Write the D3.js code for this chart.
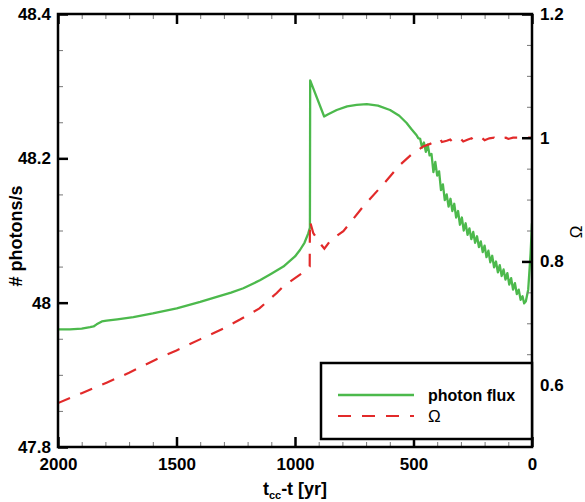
<!DOCTYPE html>
<html><head><meta charset="utf-8">
<script src="https://cdn.jsdelivr.net/npm/d3@7"></script>
<style>
body{margin:0;background:#fff}
svg{display:block}
text{font-family:"Liberation Sans",Arial,Helvetica,sans-serif}
</style>
</head><body>
<svg id="chart" width="585" height="502"></svg>
<script>
// ---------- data ----------
const fluxT = [2000,1950,1900,1865,1850,1837,1815,1795,1750,1682,1600,1499,1400,1330,1270,1218,1148,1100,1049,1000,979,960,944,937,936,
  877,860,824,780,740,697,650,599,560,529,510,487,
  480,472,464,456,448,440,432,424,416,408,400,392,384,376,368,360,352,344,336,328,320,312,304,296,288,280,272,264,256,248,240,232,224,216,208,200,
  192,184,176,168,160,152,144,136,128,120,112,104,96,88,80,72,64,56,48,40,33,26,16,6,0];
const fluxV = [47.963,47.963,47.964,47.966,47.967,47.970,47.974,47.975,47.977,47.980,47.985,47.992,48.001,48.008,48.014,48.020,48.031,48.040,48.050,48.064,48.073,48.083,48.096,48.104,48.308,
  48.258,48.261,48.267,48.272,48.274,48.275,48.273,48.267,48.259,48.249,48.241,48.232,
  48.228,48.227,48.215,48.222,48.209,48.219,48.204,48.206,48.181,48.195,48.176,48.182,48.156,48.164,48.142,48.150,48.133,48.144,48.127,48.137,48.118,48.127,48.108,48.118,48.100,48.110,48.094,48.103,48.088,48.098,48.083,48.092,48.077,48.085,48.070,48.079,
  48.063,48.072,48.056,48.065,48.049,48.057,48.042,48.052,48.037,48.046,48.032,48.041,48.025,48.034,48.018,48.027,48.012,48.018,48.004,48.009,47.999,48.002,48.018,48.068,48.110];

const omegaT = [2000,1900,1795,1700,1584,1500,1401,1300,1232,1150,1077,1049,1000,970,944,938,937,923,900,876,850,796,768,712,627,557,508,459,430,
  420,400,388,380,360,345,335,320,300,290,270,255,245,225,210,200,180,160,150,130,110,100,80,60,40,20,0];
const omegaV = [0.571,0.587,0.604,0.620,0.642,0.656,0.674,0.692,0.706,0.724,0.749,0.760,0.773,0.781,0.790,0.792,0.865,0.846,0.832,0.8205,0.834,0.849,0.862,0.889,0.925,0.956,0.973,0.986,0.990,
  0.992,0.995,0.998,0.993,0.995,0.997,0.993,0.996,0.998,0.994,0.997,0.999,0.995,0.998,0.999,0.996,0.999,1.000,0.997,0.999,1.000,0.998,1.000,1.000,1.000,1.000,1.000];

const xMajor = [2000,1500,1000,500,0];
const xMajorLabels = ["2000","1500","1000","500","0"];
const yLeftMajor = [47.8,48,48.2,48.4];
const yLeftLabels = ["47.8","48","48.2","48.4"];
const yRightMajor = [0.6,0.8,1.0,1.2];
const yRightLabels = ["0.6","0.8","1","1.2"];
const seriesNames = ["photon flux","\u03A9"];

// ---------- layout ----------
const L = 58, R = 532, T = 14, B = 447;
const svg = d3.select("#chart");
const x = d3.scaleLinear().domain([2000,0]).range([L,R]);
const yL = d3.scaleLinear().domain([47.8,48.4]).range([B,T]);
const yR = d3.scaleLinear().domain([0.5,1.2]).range([B,T]);

const xMinor = d3.range(0,2001,100).filter(v=>!xMajor.includes(v));
const yLMinor = d3.range(0,13).map(i=>+(47.8+i*0.05).toFixed(2)).filter(v=>!yLeftMajor.includes(v));
const yRMinor = d3.range(0,15).map(i=>+(0.5+i*0.05).toFixed(2)).filter(v=>!yRightMajor.includes(v));

const green = "#4cb94c", red = "#e22a2a";

// lines
const lineFlux = d3.line().x(d=>x(d[0])).y(d=>yL(d[1]));
const lineOmega = d3.line().x(d=>x(d[0])).y(d=>yR(d[1]));
svg.append("clipPath").attr("id","pc").append("rect")
  .attr("x",L).attr("y",T).attr("width",R-L).attr("height",B-T);
svg.append("path").datum(fluxT.map((t,i)=>[t,fluxV[i]]))
  .attr("d",lineFlux).attr("fill","none").attr("stroke",green).attr("stroke-width",2.3)
  .attr("stroke-linejoin","round").attr("clip-path","url(#pc)");
svg.append("path").datum(omegaT.map((t,i)=>[t,omegaV[i]]))
  .attr("d",lineOmega).attr("fill","none").attr("stroke",red).attr("stroke-width",2.2)
  .attr("stroke-dasharray","13,11").attr("clip-path","url(#pc)");

// axes helper
function styleAxis(g, major){
  g.select(".domain").remove();
  g.selectAll(".tick line").attr("stroke", major ? "#000" : "#777")
    .attr("stroke-width", major ? 2.5 : 1);
  g.selectAll("text").attr("font-size",17).attr("font-weight","bold").attr("fill","#000")
    .attr("font-family","'Liberation Sans',Arial,sans-serif");
}
// bottom
svg.append("g").attr("transform",`translate(0,${B})`)
  .call(d3.axisBottom(x).tickValues(xMinor).tickSize(-5).tickFormat(""))
  .call(g=>styleAxis(g,false));
svg.append("g").attr("transform",`translate(0,${B})`)
  .call(d3.axisBottom(x).tickValues(xMajor).tickSize(-10).tickPadding(11)
    .tickFormat((d,i)=>xMajorLabels[i]))
  .call(g=>styleAxis(g,true));
// top
svg.append("g").attr("transform",`translate(0,${T})`)
  .call(d3.axisTop(x).tickValues(xMinor).tickSize(-5).tickFormat(""))
  .call(g=>styleAxis(g,false));
svg.append("g").attr("transform",`translate(0,${T})`)
  .call(d3.axisTop(x).tickValues(xMajor).tickSize(-10).tickFormat(""))
  .call(g=>styleAxis(g,true));
// left
svg.append("g").attr("transform",`translate(${L},0)`)
  .call(d3.axisLeft(yL).tickValues(yLMinor).tickSize(-5).tickFormat(""))
  .call(g=>styleAxis(g,false));
svg.append("g").attr("transform",`translate(${L},0)`)
  .call(d3.axisLeft(yL).tickValues(yLeftMajor).tickSize(-10).tickPadding(7)
    .tickFormat((d,i)=>yLeftLabels[i]))
  .call(g=>styleAxis(g,true));
// right
svg.append("g").attr("transform",`translate(${R},0)`)
  .call(d3.axisRight(yR).tickValues(yRMinor).tickSize(-5).tickFormat(""))
  .call(g=>styleAxis(g,false));
svg.append("g").attr("transform",`translate(${R},0)`)
  .call(d3.axisRight(yR).tickValues(yRightMajor).tickSize(-10).tickPadding(8)
    .tickFormat((d,i)=>yRightLabels[i]))
  .call(g=>styleAxis(g,true));

// frame
svg.append("rect").attr("x",L).attr("y",T).attr("width",R-L).attr("height",B-T)
  .attr("fill","none").attr("stroke","#000").attr("stroke-width",2.5);

// axis titles
svg.append("text").attr("transform","translate(22,236) rotate(-90)")
  .attr("text-anchor","middle").attr("font-size",18).attr("font-weight","bold")
  .text("# photons/s");
svg.append("text").attr("transform","translate(582,232) rotate(-90)")
  .attr("text-anchor","middle").attr("font-size",17)
  .text("\u03A9");
const xt = svg.append("text").attr("x",295).attr("y",495).attr("text-anchor","middle")
  .attr("font-size",18).attr("font-weight","bold");
xt.append("tspan").text("t");
xt.append("tspan").attr("font-size",11).attr("dy",4).text("cc");
xt.append("tspan").attr("dy",-4).text("-t [yr]");

// legend
svg.append("rect").attr("x",321).attr("y",363).attr("width",R-321).attr("height",439-363)
  .attr("fill","#fff").attr("stroke","#000").attr("stroke-width",2.5);
const lg = svg.append("g");
lg.append("line").attr("x1",338).attr("x2",414).attr("y1",395).attr("y2",395)
  .attr("stroke",green).attr("stroke-width",2.3);
lg.append("line").attr("x1",338).attr("x2",414).attr("y1",416).attr("y2",416)
  .attr("stroke",red).attr("stroke-width",2.2).attr("stroke-dasharray","13,11");
lg.append("text").attr("x",428).attr("y",401).attr("font-size",16).attr("font-weight","bold")
  .text(seriesNames[0]);
lg.append("text").attr("x",428).attr("y",422).attr("font-size",17)
  .text(seriesNames[1]);
</script>
</body></html>
